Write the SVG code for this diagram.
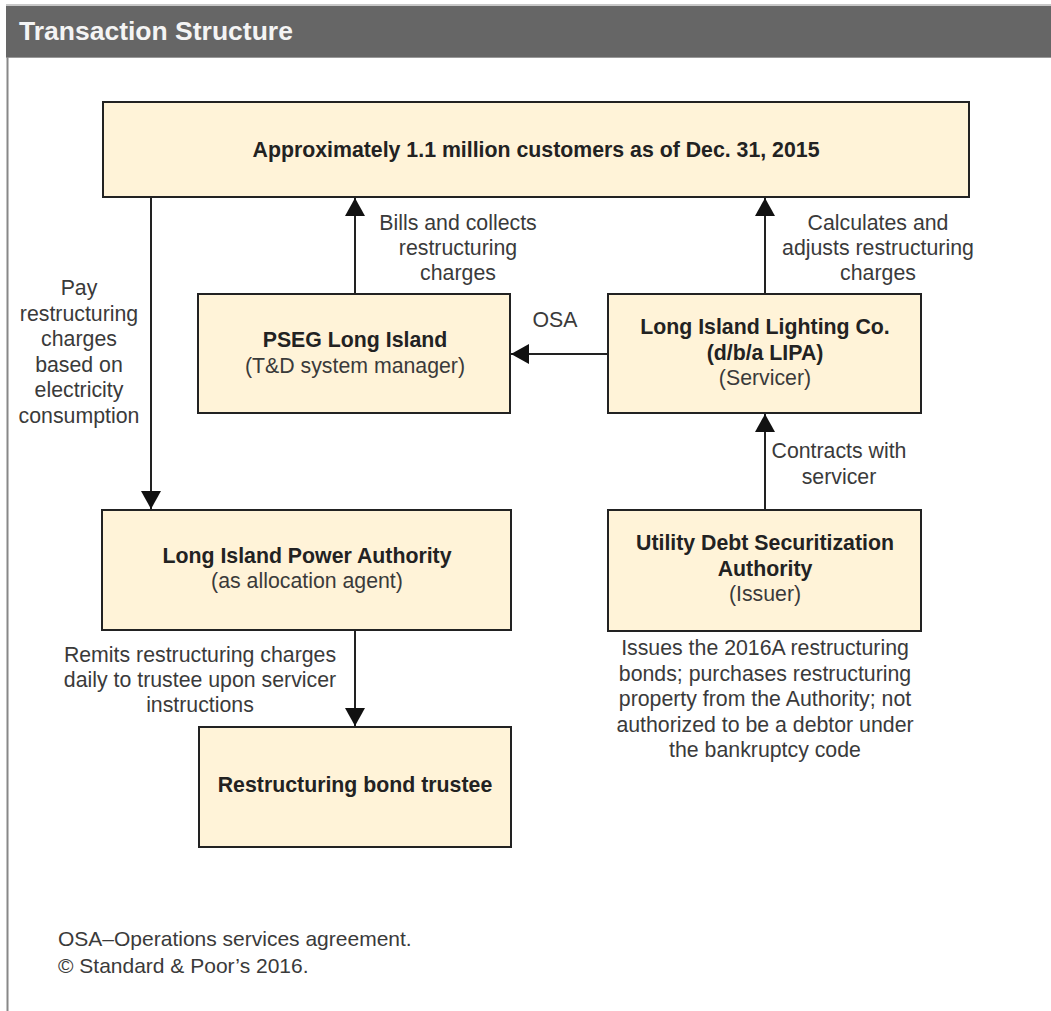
<svg xmlns="http://www.w3.org/2000/svg" width="1051" height="1011" viewBox="0 0 1051 1011">
<style>
.box{fill:#fff3d8;stroke:#222;stroke-width:2}
.b{font-family:"Liberation Sans",Arial,sans-serif;font-size:21.3px;font-weight:bold;fill:#222;text-anchor:middle}
.n{font-family:"Liberation Sans",Arial,sans-serif;font-size:21.3px;fill:#3a3a3a;text-anchor:middle}
.l{font-family:"Liberation Sans",Arial,sans-serif;font-size:21px;fill:#3a3a3a}
.c{fill:none;stroke:#222;stroke-width:2}
</style>
<defs>
<marker id="ah" viewBox="0 0 18 20" refX="18" refY="10" markerWidth="18" markerHeight="20" markerUnits="userSpaceOnUse" orient="auto">
<path d="M0,0 L18,10 L0,20 z" fill="#111"/>
</marker>
</defs>
<rect width="1051" height="1011" fill="#fff"/>
<g id="header">
<rect x="6" y="4" width="1045" height="2" fill="#c8c8c8"/>
<rect x="6" y="6" width="1045" height="51" fill="#666"/>
<rect x="6" y="57" width="1045" height="1" fill="#999"/>
<line x1="7.5" y1="57" x2="7.5" y2="1011" stroke="#888" stroke-width="2"/>
<text x="19" y="40" font-family="'Liberation Sans',Arial,sans-serif" font-size="26.5" font-weight="bold" fill="#f4f4f4">Transaction Structure</text>
</g>
<g id="connectors">
<path class="c" d="M151,197 V509" marker-end="url(#ah)"/>
<path class="c" d="M355,294 V198" marker-end="url(#ah)"/>
<path class="c" d="M765,294 V198" marker-end="url(#ah)"/>
<path class="c" d="M608,354 H511" marker-end="url(#ah)"/>
<path class="c" d="M765,510 V414" marker-end="url(#ah)"/>
<path class="c" d="M355,631 V726" marker-end="url(#ah)"/>
<text class="n" x="79"><tspan x="79" y="295">Pay</tspan><tspan x="79" y="321">restructuring</tspan><tspan x="79" y="346">charges</tspan><tspan x="79" y="372">based on</tspan><tspan x="79" y="397">electricity</tspan><tspan x="79" y="423">consumption</tspan></text>
<text class="n"><tspan x="458" y="230">Bills and collects</tspan><tspan x="458" y="255">restructuring</tspan><tspan x="458" y="280">charges</tspan></text>
<text class="n"><tspan x="878" y="230">Calculates and</tspan><tspan x="878" y="255">adjusts restructuring</tspan><tspan x="878" y="280">charges</tspan></text>
<text class="n" x="555" y="327">OSA</text>
<text class="n"><tspan x="839" y="458">Contracts with</tspan><tspan x="839" y="484">servicer</tspan></text>
<text class="n"><tspan x="200" y="662">Remits restructuring charges</tspan><tspan x="200" y="687">daily to trustee upon servicer</tspan><tspan x="200" y="712">instructions</tspan></text>
</g>
<g id="customers">
<rect class="box" x="103" y="102" width="866" height="95"/>
<text class="b" x="536" y="157">Approximately 1.1 million customers as of Dec. 31, 2015</text>
</g>
<g id="pseg">
<rect class="box" x="198" y="294" width="312" height="119"/>
<text class="b" x="355" y="347">PSEG Long Island</text>
<text class="n" x="355" y="373">(T&amp;D system manager)</text>
</g>
<g id="lilco">
<rect class="box" x="608" y="294" width="313" height="119"/>
<text class="b" x="765" y="334">Long Island Lighting Co.</text>
<text class="b" x="765" y="360">(d/b/a LIPA)</text>
<text class="n" x="765" y="385">(Servicer)</text>
</g>
<g id="lipa">
<rect class="box" x="102" y="510" width="409" height="120"/>
<text class="b" x="307" y="563">Long Island Power Authority</text>
<text class="n" x="307" y="588">(as allocation agent)</text>
</g>
<g id="udsa">
<rect class="box" x="608" y="510" width="313" height="121"/>
<text class="b" x="765" y="550">Utility Debt Securitization</text>
<text class="b" x="765" y="576">Authority</text>
<text class="n" x="765" y="601">(Issuer)</text>
<text class="n"><tspan x="765" y="655">Issues the 2016A restructuring</tspan><tspan x="765" y="681">bonds; purchases restructuring</tspan><tspan x="765" y="706">property from the Authority; not</tspan><tspan x="765" y="732">authorized to be a debtor under</tspan><tspan x="765" y="757">the bankruptcy code</tspan></text>
</g>
<g id="trustee">
<rect class="box" x="199" y="727" width="312" height="120"/>
<text class="b" x="355" y="792">Restructuring bond trustee</text>
</g>
<g id="footer">
<text class="l" x="58" y="946">OSA–Operations services agreement.</text>
<text class="l" x="58" y="973">© Standard &amp; Poor’s 2016.</text>
</g>
</svg>
